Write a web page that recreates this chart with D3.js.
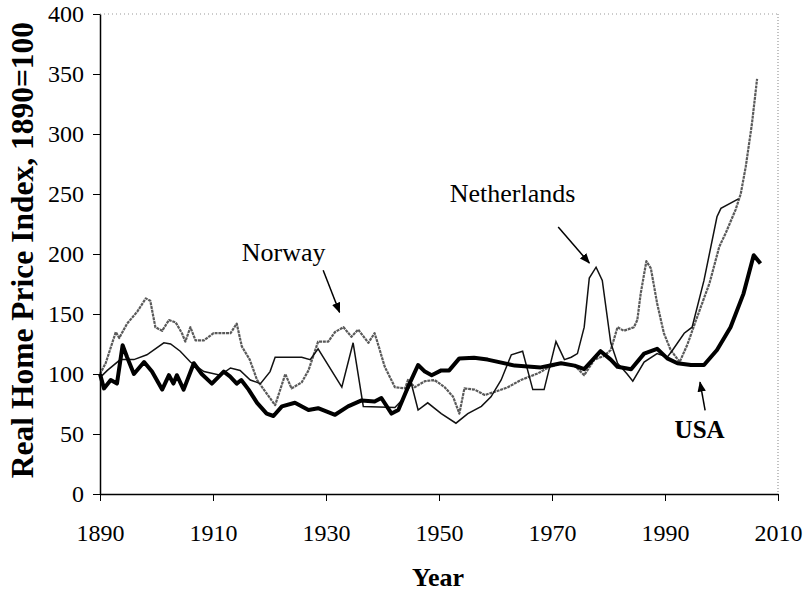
<!DOCTYPE html>
<html>
<head>
<meta charset="utf-8">
<script src="https://cdn.jsdelivr.net/npm/d3@7/dist/d3.min.js"></script>
<style>
  body { margin: 0; background: #fff; }
  text { font-family: "Liberation Serif", "Times New Roman", serif; fill: #000; }
</style>
</head>
<body>
<svg id="chart" width="809" height="591"></svg>
<script>
// values (year, index 1890=100)
const usaYears = [1890, 1890.7, 1891.9, 1893, 1894, 1894.8, 1896, 1897.8, 1899.2, 1901, 1902.2, 1903, 1903.6, 1904.8, 1906.6, 1908, 1909.8, 1911.9, 1913, 1914.2, 1915, 1916.3, 1917.8, 1919.5, 1920.7, 1922.2, 1924.5, 1926.9, 1928.6, 1931.6, 1933.9, 1936.3, 1938.6, 1939.8, 1941.6, 1942.8, 1944.5, 1946.3, 1947.5, 1948.7, 1950.4, 1951.8, 1953.6, 1956.2, 1958.6, 1963.4, 1968, 1971.6, 1974, 1975.7, 1978.6, 1980.4, 1981.6, 1984, 1986.3, 1988.6, 1990.4, 1992.2, 1994.6, 1996.9, 1999.2, 2001.6, 2003.9, 2005.7, 2006.9]
const usaValues = [100, 88, 95, 92, 124, 114, 100, 110, 102, 87, 99, 92, 99, 87, 109, 100, 92, 102, 98, 92, 95, 87, 76, 67, 65, 73, 76, 70, 71.5, 66, 73, 78, 77, 80, 67, 70, 89, 107.5, 102, 99, 103, 103, 113, 113.5, 112, 107, 105.5, 109, 107, 104, 119, 112, 106, 104, 117, 121, 113, 109, 107.5, 107.5, 120, 139, 167, 199, 192]

const norwayYears = [1890, 1891, 1892.8, 1893.4, 1894.8, 1896.6, 1898.1, 1898.9, 1899.8, 1901, 1902.2, 1903.4, 1904.5, 1905.1, 1906, 1906.9, 1908.4, 1910.1, 1913.1, 1914.2, 1915.1, 1916.5, 1917.8, 1919, 1921, 1922.8, 1923.9, 1925.7, 1926.9, 1928.6, 1930.4, 1931.6, 1933.1, 1934.5, 1935.7, 1937.5, 1938.6, 1939.2, 1940.4, 1942.2, 1944, 1944.5, 1945.7, 1947.5, 1949.2, 1951, 1952.5, 1953.6, 1954.5, 1956.3, 1958.1, 1959.8, 1962.2, 1964.5, 1967.5, 1969.2, 1971.6, 1974, 1975.7, 1977.5, 1979.2, 1980.4, 1981.6, 1982.7, 1984.5, 1985.1, 1985.7, 1986.7, 1987.5, 1988.6, 1989.8, 1991, 1992.6, 1994, 1995.5, 1997.9, 1999.6, 2000.8, 2002.5, 2003.4, 2004.3, 2005.4, 2006.3]
const norwayValues = [100, 109, 135, 130, 142, 152, 163, 161, 139, 136, 145, 143, 134, 127, 139, 128, 128, 134, 134, 142, 123, 112, 95, 87, 74, 100, 88, 93, 103, 127, 127, 135, 139, 131, 137, 126, 134, 125, 106, 89, 88, 95, 89, 94, 95, 89, 81, 67, 88, 87, 82.5, 85, 89, 95, 100.5, 105, 109, 107, 99, 112, 115, 120, 139, 136, 139, 145, 167, 194, 188, 159, 134, 120, 110, 125, 145, 176, 206, 218, 237, 250, 273, 309, 346]

const nethYears = [1890, 1891.3, 1893.6, 1896, 1898.3, 1901.3, 1902.5, 1904.2, 1906, 1908.4, 1911.3, 1913.1, 1914.8, 1916.6, 1918.4, 1920.1, 1921, 1925.7, 1927.2, 1928.6, 1932.8, 1934.8, 1936.6, 1942.2, 1943.4, 1945.1, 1946.3, 1948, 1950.4, 1953, 1955.1, 1957.5, 1959.2, 1961, 1962.8, 1964.8, 1966.6, 1968.6, 1970.7, 1972.2, 1973.4, 1974.5, 1975.7, 1976.6, 1977.8, 1978.9, 1980.4, 1981.6, 1983.3, 1984.3, 1986.3, 1988.6, 1990.4, 1991.2, 1993.4, 1994.8, 1996.9, 1999.2, 1999.9, 2003]
const nethValues = [97, 103, 112, 112, 116, 126, 125, 119, 110, 102, 99, 105, 103, 95, 92, 102, 114, 114, 112, 121, 89, 126, 73, 72, 78, 92, 70, 76, 67, 59, 67, 73, 81, 95, 116, 119, 87, 87, 127, 112, 114, 117, 139, 180, 189, 178, 126, 109, 100, 94, 110, 117, 114, 119, 134, 139, 178, 231, 238, 246]

const xTicks = [1890, 1910, 1930, 1950, 1970, 1990, 2010]
const yTicks = [0, 50, 100, 150, 200, 250, 300, 350, 400]

// labels and arrows, in data coordinates
const labelNames = ["Norway", "Netherlands", "USA"]
const labelAt = [[1915.1, 194], [1951.9, 243.4], [1991.7, 46.3]]
const labelBold = [false, false, true]
const arrowFrom = [[1929.5, 186.4], [1971.1, 222.5], [1997.1, 69.6]]
const arrowTo = [[1932.4, 151.5], [1976.6, 192.5], [1996.2, 93.2]]

const margin = { top: 14, right: 31, bottom: 97, left: 100 },
  width = 809 - margin.left - margin.right,
  height = 591 - margin.top - margin.bottom

const svg = d3.select("#chart")
svg.append("defs").append("marker").attr("id", "arrow")
  .attr("viewBox", "0 0 10 10").attr("refX", 9).attr("refY", 5)
  .attr("markerWidth", 7).attr("markerHeight", 7).attr("orient", "auto")
  .append("path").attr("d", "M0,1 L10,5 L0,9 z").attr("fill", "#000")

const g = svg.append("g").attr("transform", `translate(${margin.left},${margin.top})`)

const x = d3.scaleLinear().domain([1890, 2010]).range([0, width])
const y = d3.scaleLinear().domain([0, 400]).range([height, 0])

// dotted frame on top and right
g.append("line").attr("x1", 0).attr("x2", width).attr("y1", 0).attr("y2", 0)
  .attr("stroke", "#999").attr("stroke-width", 1).attr("stroke-dasharray", "1,3")
g.append("line").attr("x1", width).attr("x2", width).attr("y1", 0).attr("y2", height)
  .attr("stroke", "#999").attr("stroke-width", 1.2).attr("stroke-dasharray", "1,2")

const line = d3.line().x(d => x(d[0])).y(d => y(d[1]))
const zip = (a, b) => a.map((d, i) => [d, b[i]])

g.append("path").datum(zip(norwayYears, norwayValues)).attr("d", line)
  .attr("fill", "none").attr("stroke", "#5a5a5a").attr("stroke-width", 2.2)
  .attr("stroke-dasharray", "3,0.8").attr("stroke-linejoin", "round")
g.append("path").datum(zip(nethYears, nethValues)).attr("d", line)
  .attr("fill", "none").attr("stroke", "#111").attr("stroke-width", 1.5)
g.append("path").datum(zip(usaYears, usaValues)).attr("d", line)
  .attr("fill", "none").attr("stroke", "#000").attr("stroke-width", 4)
  .attr("stroke-linejoin", "round")

// axes
const yAxis = g.append("g").call(d3.axisLeft(y).tickValues(yTicks).tickSize(7).tickSizeOuter(0).tickPadding(9))
const xAxis = g.append("g").attr("transform", `translate(0,${height})`)
  .call(d3.axisBottom(x).tickValues(xTicks).tickFormat(d3.format("d")).tickSize(7).tickSizeOuter(0).tickPadding(23))
;[yAxis, xAxis].forEach(a => {
  a.select(".domain").attr("stroke", "#000").attr("stroke-width", 1.5)
  a.selectAll(".tick line").attr("stroke", "#000")
  a.selectAll("text").attr("font-size", 24).attr("font-family", "Liberation Serif")
})

// axis titles
svg.append("text").attr("transform", "translate(33,250) rotate(-90)")
  .attr("text-anchor", "middle").attr("font-weight", "bold").attr("font-size", 31.5)
  .text("Real Home Price Index, 1890=100")
svg.append("text").attr("x", 438).attr("y", 586).attr("text-anchor", "middle")
  .attr("font-weight", "bold").attr("font-size", 26).text("Year")

// annotations
labelNames.forEach((name, i) => {
  g.append("text").attr("x", x(labelAt[i][0])).attr("y", y(labelAt[i][1]))
    .attr("font-size", labelBold[i] ? 25 : 26).attr("font-weight", labelBold[i] ? "bold" : "normal")
    .text(name)
  g.append("line").attr("x1", x(arrowFrom[i][0])).attr("y1", y(arrowFrom[i][1]))
    .attr("x2", x(arrowTo[i][0])).attr("y2", y(arrowTo[i][1]))
    .attr("stroke", "#000").attr("stroke-width", 1.5).attr("marker-end", "url(#arrow)")
})
</script>
</body>
</html>
